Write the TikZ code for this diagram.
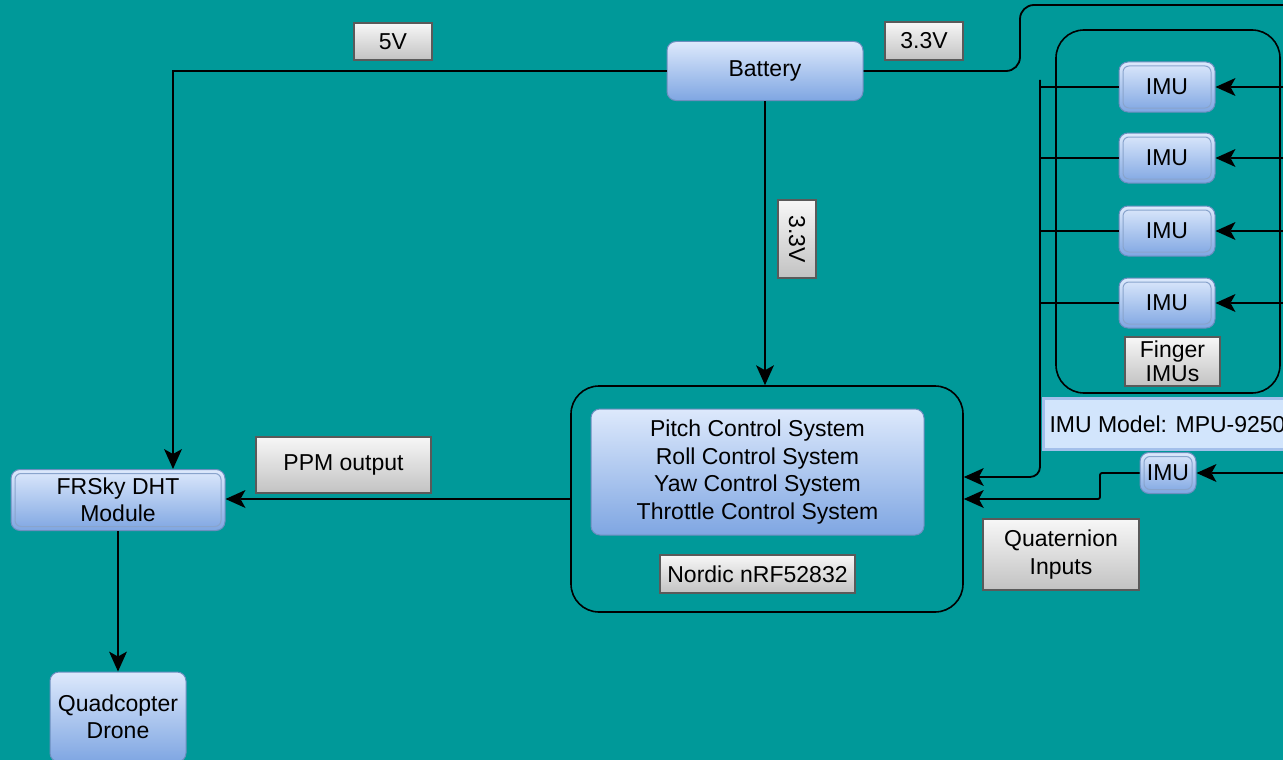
\documentclass[tikz,border=0pt]{standalone}
\usepackage{fontspec}
\setmainfont{Liberation Sans}
\usetikzlibrary{arrows.meta,positioning,calc}
\definecolor{bg}{HTML}{009999}
\definecolor{blktop}{HTML}{DDE9FC}
\definecolor{blkbot}{HTML}{7FA6E2}
\definecolor{blkline}{HTML}{6C8EBF}
\definecolor{tagtop}{HTML}{F7F7F7}
\definecolor{tagbot}{HTML}{C2C2C2}
\definecolor{tagline}{HTML}{5A5A5A}
\definecolor{notefill}{HTML}{D2E5FC}
\definecolor{noteline}{HTML}{A3BFEA}

\begin{document}
\begin{tikzpicture}[x=1pt, y=-1pt,
  font=\fontsize{23}{27.5}\selectfont,
  blk/.style={draw=blkline, line width=1pt, rounded corners=9pt, align=center, inner sep=0pt, top color=blktop, bottom color=blkbot},
  glass/.style={blk, path picture={\draw[blkline!80, line width=1pt, rounded corners=6pt]
      ([xshift=4pt,yshift=-4pt]path picture bounding box.north west) rectangle
      ([xshift=-4pt,yshift=4pt]path picture bounding box.south east);}},
  tag/.style={draw=tagline, line width=1.2pt, align=center, inner sep=0pt, top color=tagtop, bottom color=tagbot},
  grp/.style={draw, line width=1.6pt, rounded corners=28pt, inner sep=0pt},
  wire/.style={line width=1.8pt},
  arr/.style={wire, -{Stealth[length=20pt, width=18pt, inset=5pt, line width=0pt]}}]
\fill[bg] (0,0) rectangle (1283,760);
\useasboundingbox (0,0) rectangle (1283,760);

% blocks
\node[blk, minimum width=196pt, minimum height=59pt] (bat) at (765,71) {Battery};
\node[grp, minimum width=392pt, minimum height=226pt] (mcu) at (767,499) {};
\node[blk, minimum width=333pt, minimum height=126pt] (ctrl) at (757.5,472) {Pitch Control System\\Roll Control System\\Yaw Control System\\Throttle Control System};
\node[tag, minimum width=195pt, minimum height=38pt] (nordic) at (757.5,574) {Nordic nRF52832};
\node[glass, minimum width=214pt, minimum height=61pt] (frsky) at (118,500) {FRSky DHT\\Module};
\node[blk, minimum width=136pt, minimum height=90pt] (quad) at (118,717) {Quadcopter\\Drone};

% finger IMUs
\node[grp, minimum width=224pt, minimum height=363pt] (fingers) at (1168,211.5) {};
\foreach \i/\y in {1/87, 2/158, 3/231, 4/303}
  \node[glass, minimum width=96pt, minimum height=50pt] (imu\i) at (1167,\y) {IMU};
\node[tag, minimum width=95pt, minimum height=49pt, font=\fontsize{23}{24}\selectfont] (fingerlbl) at (1172.5,361.5) {Finger\\IMUs};
\node[draw=noteline, line width=3pt, fill=notefill, anchor=west, inner xsep=6pt, minimum height=51pt] (model) at (1042,424) {IMU Model: MPU-9250};
\node[glass, minimum width=56pt, minimum height=41pt, inner sep=0pt] (imu5) at (1168,473) {IMU};

% labels
\node[tag, minimum width=78pt, minimum height=37pt] (v5) at (393,41.5) {5V};
\node[tag, minimum width=78pt, minimum height=38pt] (v33a) at (924,41) {3.3V};
\node[tag, minimum width=78pt, minimum height=38pt, rotate=-90] (v33b) at (797,239) {3.3V};
\node[tag, minimum width=175pt, minimum height=56pt] (ppm) at (343.5,465) {PPM output};
\node[tag, minimum width=156pt, minimum height=71pt] (quat) at (1061,554.5) {Quaternion\\Inputs};

% connectors
\coordinate (pwrR) at (1290,5);
\coordinate (bustop) at (1040,80);
\draw[arr] (bat.west) -| ([xshift=55pt]frsky.north);
\draw[wire, rounded corners=14pt] (bat.east) -- (1020,71) -- (1020,5) -- (pwrR);
\draw[arr] (bat.south) -- (bat.south |- mcu.north);
\foreach \i in {1,...,4} {
  \coordinate (src\i) at (imu\i.east -| 1290,0);
  \draw[arr] (src\i) -- (imu\i.east);
  \draw[wire] (imu\i.west) -- (imu\i.west -| bustop);
}
\draw[arr, rounded corners=10pt] (bustop) -- (1040,477) -- ([yshift=22pt]mcu.east);
\coordinate (src5) at (1290,473);
\draw[arr] (src5) -- (imu5.east);
\draw[arr, rounded corners=2pt] (imu5.west) -- (1100,473) -- (1100,499) -- (mcu.east);
\draw[arr] (mcu.west) -- (mcu.west -| frsky.east);
\draw[arr] (frsky.south) -- (quad.north);
\end{tikzpicture}
\end{document}
